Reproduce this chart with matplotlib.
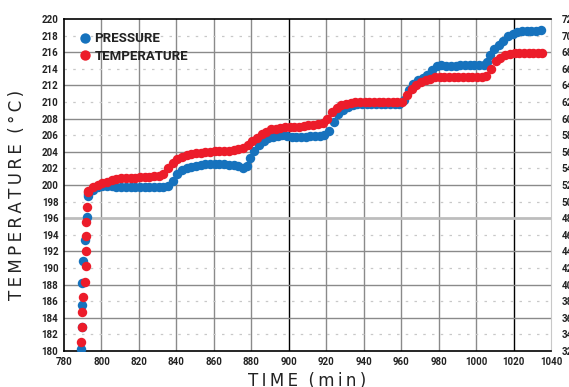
import numpy as np
import matplotlib.pyplot as plt

# initial ramp (start-up)
ramp_t_time = [789.0, 789.4, 789.6, 790.4, 791.1, 791.5, 791.5, 791.5, 791.7, 792.3, 792.8]
ramp_t_val = [181.1, 182.9, 184.7, 186.5, 188.3, 190.2, 192.0, 193.8, 195.5, 197.4, 199.1]
ramp_p_time = [789.2, 789.4, 789.4, 789.8, 790.1, 791.4, 792.4, 792.9]
ramp_p_val = [180.2, 182.9, 185.5, 188.2, 190.9, 193.4, 196.1, 198.7]

temp_time = [793, 795.5, 798, 800.5, 803, 805.5, 808, 810.5, 813, 815.5, 818, 820.5, 823, 825.5,
             828, 830.5, 833, 835.5, 838, 840.5, 843, 845.5, 848, 850.5, 853, 855.5, 858, 860.5,
             863, 865.5, 868, 870.5, 873, 875.5, 878, 880.5, 883, 885.5, 888, 890.5, 893, 895.5,
             898, 900.5, 903, 905.5, 908, 910.5, 913, 915.5, 918, 920.5, 923, 925.5, 928, 930.5,
             933, 935.5, 938, 940.5, 943, 945.5, 948, 950.5, 953, 955.5, 958, 960.5, 963, 965.5,
             968, 970.5, 973, 975.5, 978, 980.5, 983, 985.5, 988, 990.5, 993, 995.5, 998, 1000.5,
             1003, 1005.5, 1008, 1010.5, 1013, 1015.5, 1018, 1020.5, 1023, 1025.5, 1028, 1030.5,
             1033, 1035]
temp_val = [199.3, 199.7, 200.0, 200.2, 200.4, 200.6, 200.7, 200.8, 200.9, 200.9, 200.9, 201.0, 201.0, 201.0,
            201.1, 201.1, 201.3, 202.0, 202.6, 203.1, 203.4, 203.6, 203.7, 203.8, 203.9, 204.0, 204.0, 204.1,
            204.1, 204.1, 204.1, 204.2, 204.3, 204.4, 204.8, 205.3, 205.7, 206.1, 206.4, 206.7, 206.8, 206.9,
            207.0, 207.0, 207.0, 207.0, 207.1, 207.2, 207.2, 207.3, 207.5, 208.0, 208.8, 209.3, 209.6, 209.8,
            209.9, 210.0, 210.0, 210.0, 210.0, 210.0, 210.0, 210.0, 210.0, 210.0, 210.0, 210.0, 210.9, 211.6,
            212.1, 212.4, 212.6, 212.8, 213.0, 213.0, 213.0, 213.0, 213.0, 213.0, 213.0, 213.0, 213.0, 213.0,
            213.0, 213.1, 214.0, 214.9, 215.3, 215.6, 215.8, 215.9, 215.9, 215.9, 215.9, 215.9,
            215.9, 215.9]

pres_time = [793, 795.5, 798, 800.5, 803, 805.5, 808, 810.5, 813, 815.5, 818, 820.5, 823, 825.5,
             828, 830.5, 833, 835.5, 838, 840.5, 843, 845.5, 848, 850.5, 853, 855.5, 858, 860.5,
             863, 865.5, 868, 870.5, 873, 875.5, 877.5, 879.5, 881.5, 884, 886.5, 889, 891.5, 894,
             896.5, 899, 901.5, 904, 906.5, 909, 911.5, 914, 916.5, 919, 921.5, 924, 926.5, 929,
             931.5, 934, 936.5, 939, 941.5, 944, 946.5, 949, 951.5, 954, 956.5, 959, 961.5, 964,
             966.5, 969, 971.5, 974, 976.5, 979, 981.5, 984, 986.5, 989, 991.5, 994, 996.5, 999,
             1001.5, 1004, 1006, 1007.5, 1009.5, 1012, 1014.5, 1017, 1019.5, 1022, 1024.5, 1027,
             1029.5, 1032, 1034.5]
pres_val = [198.9, 199.4, 199.7, 199.9, 199.9, 199.9, 199.8, 199.8, 199.8, 199.8, 199.8, 199.8, 199.8, 199.8,
            199.8, 199.8, 199.8, 199.9, 200.5, 201.3, 201.8, 202.1, 202.2, 202.3, 202.4, 202.5, 202.5, 202.5,
            202.5, 202.5, 202.4, 202.4, 202.3, 202.1, 202.3, 203.2, 204.1, 204.8, 205.3, 205.6, 205.8, 205.9,
            206.0, 205.9, 205.8, 205.8, 205.8, 205.8, 205.9, 205.9, 205.9, 206.0, 206.5, 207.6, 208.5, 209.0,
            209.4, 209.6, 209.7, 209.7, 209.7, 209.7, 209.7, 209.7, 209.7, 209.7, 209.7, 209.7, 210.2, 211.4,
            212.2, 212.6, 212.9, 213.3, 213.8, 214.3, 214.5, 214.3, 214.3, 214.3, 214.4, 214.4, 214.4, 214.4,
            214.5, 214.5, 214.8, 215.7, 216.4, 216.9, 217.4, 217.9, 218.2, 218.4, 218.5, 218.6,
            218.6, 218.6, 218.7]

x_ticks = list(range(780, 1041, 20))
y_ticks = list(range(180, 221, 2))
right_ticks = list(range(320, 721, 20))

BLUE = '#1672bd'
RED = '#ec1c2a'
cond = ['Roboto', 'DejaVu Sans']

fig = plt.figure(figsize=(5.69, 3.87), dpi=100)
ax = fig.add_axes([0.1125, 0.093, 0.856, 0.858])

# grid
for x in x_ticks[1:-1]:
    c = 'black' if x in (900, 1020) else '#8a8a8a'
    ax.axvline(x, color=c, lw=1.0, zorder=1)
for y in y_ticks[1:-1]:
    if (220 - y) % 4 == 0:
        if y == 196:
            ax.axhline(y, color='#bdbdbd', lw=2.0, zorder=1)
        else:
            ax.axhline(y, color='#8a8a8a', lw=1.0, zorder=1)
    else:
        ax.axhline(y, color='#c8c8c8', lw=0.9, ls=(0, (2, 5)), zorder=1)

pt = ramp_p_time + pres_time
pv = ramp_p_val + pres_val
tt = ramp_t_time + temp_time
tv = ramp_t_val + temp_val
ax.plot(pt, pv, 'o', color=BLUE, ms=6.8, mec='none', label='PRESSURE', zorder=3)
ax.plot(tt, tv, 'o', color=RED, ms=6.8, mec='none', label='TEMPERATURE', zorder=4)

ax.set_xlim(780, 1040)
ax.set_ylim(180, 220)
ax.set_xticks(x_ticks)
ax.set_yticks(y_ticks)
ax.tick_params(length=0, pad=4, labelsize=7)
for lab in ax.get_xticklabels() + ax.get_yticklabels():
    lab.set_family(cond)
    lab.set_fontweight('bold')
    lab.set_color('#222222')

for s in ['left', 'bottom', 'top']:
    ax.spines[s].set_color('black')
    ax.spines[s].set_linewidth(1.2)
ax.spines['right'].set_color('#c8c8c8')

ax2 = ax.twinx()
ax2.set_ylim(320, 720)
ax2.set_yticks(right_ticks)
ax2.tick_params(length=0, pad=7.5, labelsize=7)
for lab in ax2.get_yticklabels():
    lab.set_family(cond)
    lab.set_fontweight('bold')
    lab.set_color('#222222')
for s in ax2.spines.values():
    s.set_visible(False)

ts = '\u2009'
ax.set_ylabel(ts.join('TEMPERATURE') + '  ' + ts.join('(°C)'), fontsize=12, color='#222222',
              labelpad=11, y=0.47)
ax.set_xlabel(ts.join('TIME') + '  ' + ts.join('(min)'), fontsize=12, color='#222222', labelpad=4)

leg = ax.legend(loc='upper left', frameon=False, handletextpad=0.1, borderaxespad=0.6,
                labelspacing=0.35, prop={'family': cond, 'weight': 'bold', 'size': 9.5},
                handlelength=1.2, markerscale=1.1)
for t in leg.get_texts():
    t.set_color('#222222')

fig.savefig('out.png', dpi=100)
